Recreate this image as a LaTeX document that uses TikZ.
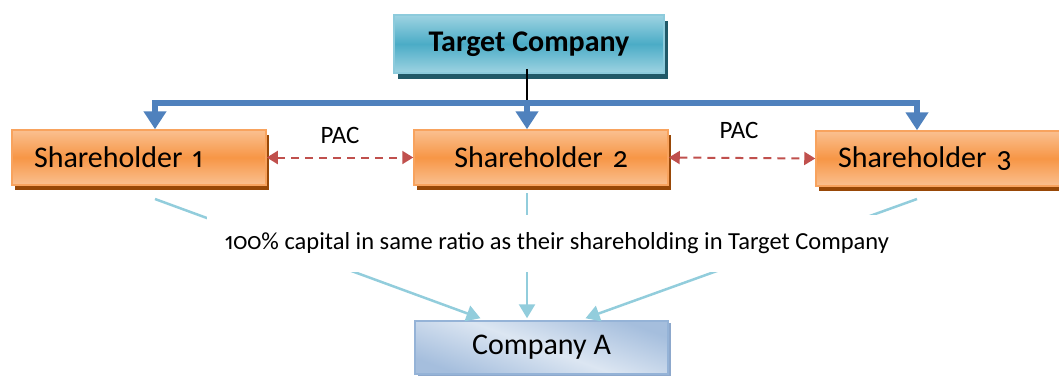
\documentclass[tikz,border=0pt]{standalone}
\usepackage{fontspec}
\setmainfont{Carlito}[Numbers={OldStyle,Proportional}]
\usetikzlibrary{arrows.meta}
\definecolor{tcmid}{HTML}{4BACC6}
\definecolor{tclight}{HTML}{9ED3E2}
\definecolor{tcshadow}{HTML}{215968}
\definecolor{shmid}{HTML}{F79646}
\definecolor{shlight}{HTML}{FAC090}
\definecolor{shborder}{HTML}{F8A35E}
\definecolor{shshadow}{HTML}{984807}
\definecolor{calight}{HTML}{DCE6F2}
\definecolor{cadark}{HTML}{A5BEDD}
\definecolor{caborder}{HTML}{95B3D7}
\definecolor{cashadow}{HTML}{8DA8CC}
\definecolor{barblue}{HTML}{4F81BD}
\definecolor{linkblue}{HTML}{92CDDC}
\definecolor{pacred}{HTML}{C0504D}
\tikzset{
  boxbase/.style={draw, line width=1.5pt, rectangle, inner sep=0pt},
  tcbox/.style={boxbase, draw=tclight!80!tcmid, top color=tclight, bottom color=tclight, middle color=tcmid,
    preaction={fill=tcshadow, transform canvas={shift={(4pt,-6pt)}}},
    minimum width=270pt, minimum height=58pt, font=\fontsize{30}{34}\selectfont\bfseries},
  shbox/.style={boxbase, draw=shborder, top color=shlight, bottom color=shlight, middle color=shmid,
    preaction={fill=shshadow, transform canvas={shift={(3pt,-5pt)}}},
    minimum height=55pt, text width=210pt, inner xsep=22pt, font=\fontsize{30}{34}\selectfont},
  cabox/.style={boxbase, draw=caborder, top color=cadark, bottom color=cadark, middle color=calight, shading angle=160,
    preaction={fill=cashadow, transform canvas={shift={(3pt,-2pt)}}},
    minimum width=253pt, minimum height=53pt, font=\fontsize{30}{34}\selectfont},
  bar/.style={draw=barblue, line width=6pt},
  bararrow/.style={bar, -{Triangle[length=18pt,width=22pt]}},
  link/.style={draw=linkblue, line width=2.5pt, -{Triangle[length=14pt,width=16pt]}},
  pac/.style={draw=pacred, line width=2pt, dash pattern=on 8pt off 6pt,
    {Triangle[length=11pt,width=13pt]}-{Triangle[length=11pt,width=13pt]}},
  lbl/.style={font=\fontsize{25}{28}\selectfont, inner sep=0pt},
}
\begin{document}
\begin{tikzpicture}[x=1pt,y=-1pt]
\useasboundingbox (0,0) rectangle (1059,376);
% nodes
\node[tcbox] (tc) at (529,44) {Target Company};
\node[shbox, align=left] (sh1) at (139,157.5) {\raisebox{-2pt}{Shareholder 1}};
\node[shbox, align=center] (sh2) at (541,157.5) {\raisebox{-2pt}{Shareholder 2}};
\node[shbox, align=left] (sh3) at (943,158.5) {\raisebox{-2pt}{Shareholder 3}};
\node[cabox] (ca) at (541.5,347.5) {\raisebox{-3pt}{Company A}};
% coordinates
\coordinate (b1) at (155,103);
\coordinate (b2) at (527,103);
\coordinate (b3) at (917,103);
\coordinate (s1) at (155,199);
\coordinate (s2) at (527,193);
\coordinate (s3) at (917,199);
% black line
\draw[line width=1.5pt] ([yshift=5pt]tc.south -| b2) -- (b2);
% blue bar
\draw[bar, {Triangle[length=18pt,width=22pt]}-{Triangle[length=18pt,width=22pt]}]
  (b1 |- sh1.north) -- (b1) -- (b3) -- (b3 |- sh3.north);
\draw[bararrow] (b2) -- (b2 |- sh2.north);
% PAC
\draw[pac] (sh1.east) -- (sh2.west) node[lbl, midway, above=13pt] (pac1) {PAC};
\draw[pac] (sh2.east) -- (sh3.west) node[lbl, pos=0.48, above=18pt] (pac2) {PAC};
% links to Company A
\draw[link] (s1) -- ([xshift=-61pt,yshift=2pt]ca.north);
\draw[link] (s2) -- ([yshift=2pt]s2 |- ca.north);
\draw[link] (s3) -- ([xshift=44pt,yshift=2pt]ca.north);
\node[fill=white, minimum width=700pt, minimum height=57pt, inner sep=0pt,
  font=\fontsize{24.5}{28}\selectfont] (cap) at (557,243.5)
  {100\% capital in same ratio as their shareholding in Target Company};
\end{tikzpicture}
\end{document}
